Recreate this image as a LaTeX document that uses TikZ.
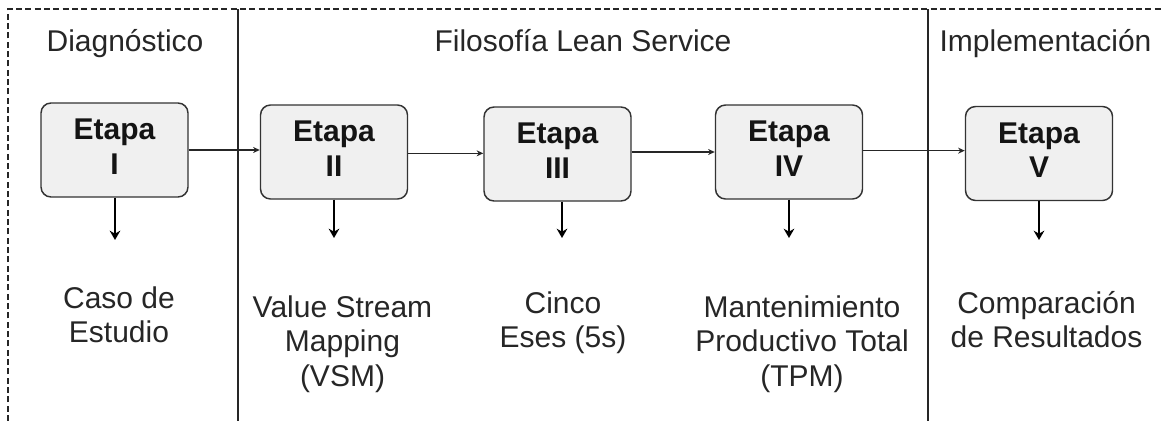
\documentclass[tikz,border=0pt]{standalone}
\usepackage{fontspec}
\setmainfont{Liberation Sans}
\usetikzlibrary{arrows.meta}
\setlength{\tabcolsep}{0pt}
\begin{document}
\begin{tikzpicture}[x=0.75pt,y=-0.75pt,
  txt/.style={font=\fontsize{22.5}{25.9}\selectfont, text=black!85, inner sep=0pt, anchor=base},
  stagebox/.style={draw=black!80, line width=1.1pt, fill=black!6, rounded corners=7.5pt,
    minimum width=110.25pt, minimum height=70.5pt, inner sep=0pt,
    font=\fontsize{22.5}{25.9}\selectfont\bfseries, text=black!92},
  flow/.style={draw=black!85, line width=0.8pt, -{Stealth[length=5pt,width=4.5pt]}},
  down/.style={draw=black, line width=1.8pt, -{Stealth[length=7pt,width=8pt]}},
  frame/.style={draw=black!85, line width=0.8pt, dash pattern=on 4.5pt off 2.5pt},
  divider/.style={draw=black!85, line width=1pt}
]
\useasboundingbox (0,0) rectangle (1161,421);

% frame and dividers
\draw[frame] (8,421) -- (8,9) -- (1161,9);
\draw[divider] (238,9) -- (238,421);
\draw[divider] (928,9) -- (928,421);

% headings
\node[txt] (h1) at (125,51.5) {Diagnóstico};
\node[txt] (h2) at (583,51.5) {Filosofía Lean Service};
\node[txt] (h3) at (1045.5,51.5) {Implementación};

% stage boxes
\node[stagebox] (b1) at (114.5,150) {\begin{tabular}{c}Etapa\\I\end{tabular}};
\node[stagebox] (b2) at (334,152) {\begin{tabular}{c}Etapa\\II\end{tabular}};
\node[stagebox] (b3) at (557.5,154) {\begin{tabular}{c}Etapa\\III\end{tabular}};
\node[stagebox] (b4) at (789,152) {\begin{tabular}{c}Etapa\\IV\end{tabular}};
\node[stagebox] (b5) at (1039,153.5) {\begin{tabular}{c}Etapa\\V\end{tabular}};

% horizontal connectors
\draw[flow] (b1.east) -- (b1.east -| b2.west);
\draw[flow] ([yshift=-1pt]b2.east) -- ([yshift=-1pt]b2.east -| b3.west);
\draw[flow] (b4.west -| b3.east) -- (b4.west);
\draw[flow] ([yshift=1pt]b4.east) -- ([yshift=1pt]b4.east -| b5.west);

% down arrows
\coordinate (e1) at (115,240);
\coordinate (e2) at (334,238);
\coordinate (e3) at (562,238);
\coordinate (e4) at (789,238);
\coordinate (e5) at (1039,240);
\draw[down] (b1.south -| e1) -- (e1);
\draw[down] (b2.south -| e2) -- (e2);
\draw[down] (b3.south -| e3) -- (e3);
\draw[down] (b4.south -| e4) -- (e4);
\draw[down] (b5.south -| e5) -- (e5);

% descriptions
\node[txt] (t1) at (119,308) {\begin{tabular}[t]{c}Caso de\\Estudio\end{tabular}};
\node[txt] (t2) at (342.5,317) {\begin{tabular}[t]{c}Value Stream\\Mapping\\(VSM)\end{tabular}};
\node[txt] (t3) at (563,313) {\begin{tabular}[t]{c}Cinco\\Eses (5s)\end{tabular}};
\node[txt] (t4) at (802,317) {\begin{tabular}[t]{c}Mantenimiento\\Productivo Total\\(TPM)\end{tabular}};
\node[txt] (t5) at (1046.5,313) {\begin{tabular}[t]{c}Comparación\\de Resultados\end{tabular}};
\end{tikzpicture}
\end{document}
